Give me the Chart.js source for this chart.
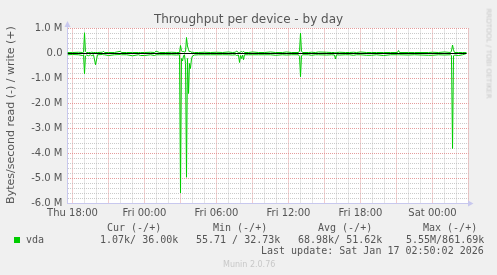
<!DOCTYPE html>
<html><head><meta charset="utf-8">
<script src="https://cdn.jsdelivr.net/npm/chart.js@4.4.0/dist/chart.umd.min.js"></script>
<style>
html,body{margin:0;padding:0;background:#F0F0F0;}
#wrap{position:relative;width:497px;height:275px;overflow:hidden;background:#F0F0F0;}
canvas{position:absolute;left:0;top:0;}
.t{position:absolute;white-space:pre;line-height:1;}
.s{font-family:"DejaVu Sans",sans-serif;}
.m{font-family:"DejaVu Sans Mono",monospace;font-size:10px;color:#555;}
</style></head><body>
<div id="wrap">
<canvas id="c" width="497" height="275"></canvas>
<div class="t s" style="left:0;width:497px;text-align:center;top:13px;font-size:12px;color:#555;">Throughput per device - by day</div>
<div class="t s" style="left:-114px;width:250px;top:109px;height:12px;text-align:center;font-size:11px;color:#555;transform:rotate(-90deg);">Bytes/second read (-) / write (+)</div>
<div class="t s" style="left:428px;width:120px;top:50px;height:7px;text-align:center;font-size:7px;color:#C8C8C8;transform:rotate(90deg);">RRDTOOL / TOBI OETIKER</div>
<div class="t m" style="left:107px;top:223px;">Cur (-/+)</div>
<div class="t m" style="left:213px;top:223px;">Min (-/+)</div>
<div class="t m" style="left:318px;top:223px;">Avg (-/+)</div>
<div class="t m" style="left:423px;top:223px;">Max (-/+)</div>
<div style="position:absolute;left:14px;top:237px;width:6px;height:6px;background:#00CC00;"></div>
<div class="t m" style="left:26px;top:235px;">vda</div>
<div class="t m" style="left:100px;top:235px;">1.07k/ 36.00k</div>
<div class="t m" style="left:196px;top:235px;">55.71 / 32.73k</div>
<div class="t m" style="left:298px;top:235px;">68.98k/ 51.62k</div>
<div class="t m" style="left:406px;top:235px;">5.55M/861.69k</div>
<div class="t m" style="left:261px;top:246px;">Last update: Sat Jan 17 02:50:02 2026</div>
<div class="t s" style="left:223px;top:261px;font-size:8px;color:#C8C8C8;">Munin 2.0.76</div>
</div>
<script>
// time in hours relative to Fri 00:00
const hours = [-6.42,-6.0,-5.5,-5.17,-5.08,-5.0,-4.92,-4.83,-4.67,-4.5,-4.42,-4.25,-4.08,-3.92,-3.5,-3.42,-3.33,-3.0,-2.5,-2.0,-1.92,-1.5,-1.0,-0.5,-0.33,0.0,0.5,0.83,0.97,1.25,1.75,2.25,2.67,2.92,3.0,3.08,3.17,3.25,3.33,3.42,3.5,3.58,3.67,3.75,3.83,3.92,4.0,4.17,4.5,5.0,5.5,6.0,6.5,7.0,7.33,7.58,7.67,7.83,7.92,8.0,8.08,8.17,8.25,8.33,8.67,9.0,9.5,10.0,10.5,10.92,11.5,11.83,12.25,12.83,12.92,13.0,13.08,13.17,13.67,13.92,14.25,14.5,15.17,15.58,15.83,15.92,16.0,16.25,16.75,17.08,17.42,17.67,18.0,18.5,18.92,19.33,19.92,20.5,21.08,21.17,21.25,22.0,22.5,23.67,24.0,24.5,25.0,25.5,25.58,25.67,25.75,25.83,26.17,26.5,26.83];
// write throughput, MB/s (plotted positive)
const writeM = [0.04,0.04,0.05,0.04,0.05,0.83,0.08,0.04,0.04,0.04,0.05,0.04,0.04,0.04,0.05,0.09,0.04,0.04,0.04,0.09,0.04,0.04,0.04,0.04,0.04,0.04,0.05,0.04,0.09,0.04,0.04,0.05,0.04,0.04,0.32,0.12,0.06,0.10,0.05,0.08,0.64,0.30,0.15,0.06,0.10,0.04,0.05,0.04,0.04,0.05,0.04,0.05,0.04,0.06,0.04,0.05,0.10,0.04,0.04,0.06,0.08,0.05,0.09,0.04,0.04,0.06,0.04,0.04,0.06,0.04,0.04,0.06,0.04,0.04,0.10,0.82,0.10,0.04,0.04,0.05,0.04,0.06,0.05,0.04,0.04,0.04,0.04,0.05,0.04,0.04,0.05,0.04,0.06,0.04,0.04,0.04,0.04,0.04,0.04,0.12,0.04,0.04,0.04,0.04,0.05,0.04,0.06,0.04,0.10,0.34,0.15,0.04,0.04,0.04,0.036];
// read throughput, MB/s (plotted negative)
const readM = [0.05,0.04,0.05,0.08,0.05,0.81,0.10,0.06,0.09,0.05,0.09,0.05,0.45,0.05,0.04,0.05,0.05,0.08,0.05,0.04,0.05,0.05,0.09,0.05,0.08,0.08,0.05,0.08,0.05,0.05,0.05,0.05,0.06,0.05,5.58,0.20,0.30,0.10,0.05,0.40,4.95,0.20,1.60,0.40,0.60,0.20,0.10,0.06,0.05,0.05,0.05,0.05,0.05,0.05,0.06,0.05,0.08,0.06,0.36,0.08,0.20,0.06,0.25,0.05,0.05,0.05,0.05,0.05,0.05,0.07,0.05,0.06,0.05,0.05,0.12,0.93,0.10,0.05,0.05,0.07,0.05,0.05,0.06,0.05,0.06,0.22,0.05,0.06,0.05,0.05,0.07,0.05,0.05,0.07,0.07,0.05,0.08,0.05,0.05,0.05,0.05,0.06,0.05,0.07,0.07,0.05,0.06,0.05,0.08,3.80,0.10,0.06,0.08,0.05,0.001];
const xTickHours = [-6,0,6,12,18,24];
const xTickLabels = ['Thu 18:00','Fri 00:00','Fri 06:00','Fri 12:00','Fri 18:00','Sat 00:00'];
const yTickValues = [1,0,-1,-2,-3,-4,-5,-6];
const yTickLabels = ['1.0 M','0.0','-1.0 M','-2.0 M','-3.0 M','-4.0 M','-5.0 M','-6.0 M'];
const X_MIN = -6 - 5/12, X_MAX = 27, Y_MIN = -6, Y_MAX = 1;

const GREEN = '#00CC00', AXIS = 'rgb(200,200,238)';
const RED_GRID = 'rgba(225,140,140,0.85)', GRAY_GRID = 'rgba(185,185,185,0.75)';
const near = (a,b) => Math.abs(a-b) < 1e-6;

const writePts = hours.map((h,i) => ({x:h, y:writeM[i]}));
const readPts = hours.map((h,i) => ({x:h, y:-readM[i]}));
const zeroPts = [{x:hours[0], y:0},{x:hours[hours.length-1], y:0}];

const bgPlugin = {
  id:'bg',
  beforeDraw(chart){
    const {ctx, chartArea:a} = chart;
    ctx.save(); ctx.fillStyle = '#FFFFFF';
    ctx.fillRect(Math.floor(a.left), Math.floor(a.top), Math.ceil(a.right-a.left), Math.ceil(a.bottom-a.top));
    ctx.restore();
  },
  afterDraw(chart){
    const {ctx, chartArea:a} = chart;
    ctx.save(); ctx.fillStyle = AXIS; ctx.strokeStyle = AXIS; ctx.lineWidth = 1;
    ctx.beginPath(); ctx.moveTo(a.left, a.top); ctx.lineTo(a.left, a.top-3); ctx.stroke();
    ctx.beginPath(); ctx.moveTo(a.left-3, a.top-1.5); ctx.lineTo(a.left+3, a.top-1.5); ctx.lineTo(a.left, a.top-7.5); ctx.closePath(); ctx.fill();
    ctx.beginPath(); ctx.moveTo(a.right-0.5, a.bottom-3); ctx.lineTo(a.right-0.5, a.bottom+3); ctx.lineTo(a.right+5, a.bottom); ctx.closePath(); ctx.fill();
    ctx.restore();
  }
};

new Chart(document.getElementById('c'), {
  type:'line',
  data:{ datasets:[
    {data:zeroPts, borderColor:'#000000', borderWidth:1, pointRadius:0, order:0},
    {data:writePts, borderColor:GREEN, borderWidth:1, pointRadius:0, tension:0, order:1},
    {data:readPts, borderColor:GREEN, borderWidth:1, pointRadius:0, tension:0, order:2}
  ]},
  options:{
    responsive:false, animation:false, events:[],
    layout:{padding:{left:0, top:28.5, right:28.5, bottom:0}},
    plugins:{legend:{display:false}, tooltip:{enabled:false}, title:{display:false}},
    scales:{
      x:{
        type:'linear', min:X_MIN, max:X_MAX,
        afterFit(s){ s.height = 71.5; },
        grid:{drawTicks:false, lineWidth:1,
          color: c => (c.tick && Math.abs(c.tick.value % 3) < 1e-6) ? RED_GRID : GRAY_GRID},
        border:{display:true, color:AXIS, width:1, dash:[1,1]},
        ticks:{stepSize:1, includeBounds:false, autoSkip:false, maxRotation:0, padding:4,
          color:'#555', font:{family:'DejaVu Sans', size:10},
          callback: v => { const i = xTickHours.findIndex(h => near(h,v)); return i >= 0 ? xTickLabels[i] : ''; }}
      },
      y:{
        type:'linear', min:Y_MIN, max:Y_MAX,
        afterFit(s){ s.width = 67.5; },
        grid:{drawTicks:false, lineWidth:1,
          color: c => (c.tick && near(c.tick.value, Math.round(c.tick.value))) ? RED_GRID : GRAY_GRID},
        border:{display:true, color:AXIS, width:1, dash:[1,1]},
        ticks:{stepSize:0.2, autoSkip:false, padding:5,
          color:'#555', font:{family:'DejaVu Sans', size:10},
          callback: v => { const i = yTickValues.findIndex(t => near(t,v)); return i >= 0 ? yTickLabels[i] : ''; }}
      }
    }
  },
  plugins:[bgPlugin]
});
</script>
</body></html>
